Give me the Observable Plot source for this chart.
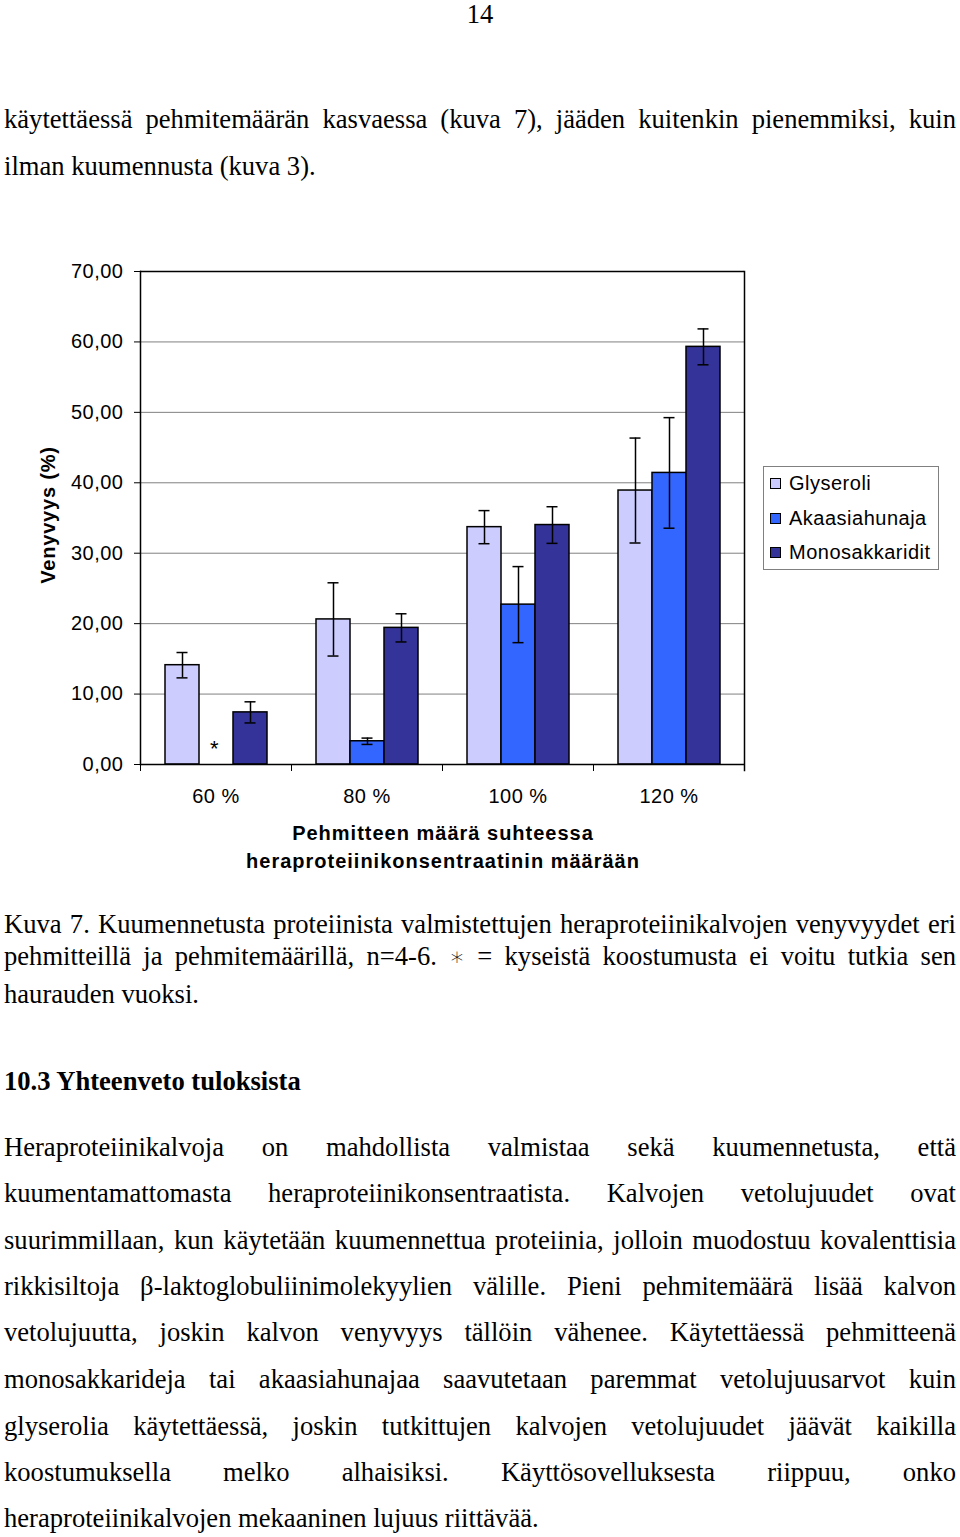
<!DOCTYPE html>
<html>
<head>
<meta charset="utf-8">
<script src="https://cdn.jsdelivr.net/npm/d3@7"></script>
<script src="https://cdn.jsdelivr.net/npm/@observablehq/plot@0.6"></script>
<style>
  body { margin: 0; background: #fff; }
  #page { position: relative; width: 960px; height: 1537px; overflow: hidden; background: #fff; color: #000;
          font-family: "Liberation Serif", "Times New Roman", serif; font-size: 26.6px; }
  .ln { position: absolute; left: 4px; width: 952px; line-height: 1; }
  .j { text-align: justify; text-align-last: justify; }
  .l { text-align: left; }
  .c { text-align: center; left: 0; width: 960px; }
  .b { font-weight: bold; }
  .op { font-family: "DejaVu Sans", sans-serif; font-size: 0.95em; font-weight: 200; }
  .sans { position: absolute; font-family: "Liberation Sans", Arial, sans-serif; font-size: 20px; line-height: 20px; letter-spacing: 0.5px; white-space: nowrap; }
  #chart { position: absolute; left: 0; top: 250px; }
  #legend { position: absolute; left: 763px; top: 466px; width: 174px; height: 102px; border: 1px solid #808080; background: #fff; }
  .sw { position: absolute; width: 9px; height: 9px; border: 1px solid #000; }
</style>
</head>
<body>
<div id="page"></div>
<script>
// ---- data ----
const categories = ["60 %", "80 %", "100 %", "120 %"];
const series = ["Glyseroli", "Akaasiahunaja", "Monosakkaridit"];
const glyseroli = [14.1, 20.6, 33.7, 38.9];
const glyseroliErr = [1.8, 5.2, 2.35, 7.45];
const akaasiahunaja = [null, 3.3, 22.7, 41.4];
const akaasiahunajaErr = [null, 0.45, 5.4, 7.85];
const monosakkaridit = [7.4, 19.4, 34.0, 59.3];
const monosakkariditErr = [1.5, 2.0, 2.6, 2.55];
const colors = ["#CCCCFF", "#3366FF", "#333399"];
const yTicks = [0, 10, 20, 30, 40, 50, 60, 70];
const gridTicks = [10, 20, 30, 40, 50, 60];
const notes = [{cat: "60 %", series: "Akaasiahunaja", text: "*"}];
const yLabel = "Venyvyys (%)";
const xTitle = ["Pehmitteen määrä suhteessa", "heraproteiinikonsentraatinin määrään"];

// ---- page text ----
const pageNumber = "14";
const topLines = [
  "käytettäessä pehmitemäärän kasvaessa (kuva 7), jääden kuitenkin pienemmiksi, kuin",
  "ilman kuumennusta (kuva 3)."
];
const captionLines = [
  "Kuva 7. Kuumennetusta proteiinista valmistettujen heraproteiinikalvojen venyvyydet eri",
  "pehmitteillä ja pehmitemäärillä, n=4-6. \u2217 = kyseistä koostumusta ei voitu tutkia sen",
  "haurauden vuoksi."
];
const heading = "10.3 Yhteenveto tuloksista";
const bodyLines = [
  "Heraproteiinikalvoja on mahdollista valmistaa sekä kuumennetusta, että",
  "kuumentamattomasta heraproteiinikonsentraatista. Kalvojen vetolujuudet ovat",
  "suurimmillaan, kun käytetään kuumennettua proteiinia, jolloin muodostuu kovalenttisia",
  "rikkisiltoja β-laktoglobuliinimolekyylien välille. Pieni pehmitemäärä lisää kalvon",
  "vetolujuutta, joskin kalvon venyvyys tällöin vähenee. Käytettäessä pehmitteenä",
  "monosakkarideja tai akaasiahunajaa saavutetaan paremmat vetolujuusarvot kuin",
  "glyserolia käytettäessä, joskin tutkittujen kalvojen vetolujuudet jäävät kaikilla",
  "koostumuksella melko alhaisiksi. Käyttösovelluksesta riippuu, onko",
  "heraproteiinikalvojen mekaaninen lujuus riittävää."
];

const page = document.getElementById("page");
const serifAsc = 0.8375 * 26.6;
function line(text, baseline, cls) {
  const d = document.createElement("div");
  d.className = "ln " + cls;
  d.style.top = (baseline - serifAsc) + "px";
  // render the math asterisk operator in a lighter face
  text.split("\u2217").forEach((part, k) => {
    if (k > 0) {
      const s = document.createElement("span");
      s.className = "op";
      s.textContent = "\u2217";
      d.append(s);
    }
    d.append(document.createTextNode(part));
  });
  page.append(d);
}
line(pageNumber, 23, "c");
[128.3, 175].forEach((b, i) => line(topLines[i], b, i < topLines.length - 1 ? "j" : "l"));
[933, 965, 1003].forEach((b, i) => line(captionLines[i], b, i < captionLines.length - 1 ? "j" : "l"));
line(heading, 1090, "l b");
[1156, 1202.7, 1249.3, 1295.7, 1341.7, 1388.3, 1435, 1481, 1527.3]
  .forEach((b, i) => line(bodyLines[i], b, i < bodyLines.length - 1 ? "j" : "l"));

// ---- chart ----
const values = [glyseroli, akaasiahunaja, monosakkaridit];
const errors = [glyseroliErr, akaasiahunajaErr, monosakkariditErr];
const rows = categories.flatMap((c, i) => series.map((s, j) => ({
  cat: c, series: s, value: values[j][i], err: errors[j][i]
}))).filter(d => d.value != null);

const width = 960, height = 630;
const marginTop = 21, marginBottom = 116, marginLeft = 140, marginRight = 216;
const plotH = height - marginTop - marginBottom;

const chart = Plot.plot({
  width, height, marginTop, marginBottom, marginLeft, marginRight,
  style: {fontFamily: "Liberation Sans, Arial, sans-serif", fontSize: "20px", letterSpacing: "0.5px", background: "transparent", color: "black", overflow: "visible"},
  fx: {domain: categories, padding: 0},
  x: {domain: series, paddingInner: 0, paddingOuter: 0.72, axis: null},
  y: {domain: [0, 70]},
  color: {domain: series, range: colors},
  marks: [
    Plot.gridY(gridTicks, {stroke: "#808080", strokeOpacity: 1, strokeWidth: 1}),
    Plot.barY(rows, {fx: "cat", x: "series", y: "value", fill: "series", stroke: "black", strokeWidth: 1.5}),
    Plot.ruleX(rows, {fx: "cat", x: "series", y1: d => d.value - d.err, y2: d => d.value + d.err, stroke: "black", strokeWidth: 1.5}),
    Plot.tickY(rows, {fx: "cat", x: "series", y: d => d.value + d.err, stroke: "black", strokeWidth: 1.5, insetLeft: 11.5, insetRight: 11.5}),
    Plot.tickY(rows, {fx: "cat", x: "series", y: d => d.value - d.err, stroke: "black", strokeWidth: 1.5, insetLeft: 11.5, insetRight: 11.5}),
    Plot.text(notes, {fx: "cat", x: "series", y: 0, text: "text", lineAnchor: "bottom", dx: -2, dy: -9, fontSize: 22, fill: "black"}),
    Plot.ruleY([0, 70], {stroke: "black", strokeWidth: 1.5}),
    Plot.frame({anchor: "left", insetTop: plotH, insetBottom: -6, stroke: "black", strokeWidth: 1}),
    Plot.frame({anchor: "left", facetAnchor: "left", stroke: "black", strokeWidth: 1.5}),
    Plot.frame({anchor: "right", facetAnchor: "right", insetBottom: -6, stroke: "black", strokeWidth: 1.5}),
    Plot.axisY(yTicks, {tickSize: 6, tickPadding: 11, tickFormat: d => d.toFixed(2).replace(".", ","), label: null, stroke: "black", fill: "black", fontSize: 20}),
    Plot.axisFx({anchor: "bottom", tickSize: 0, tickPadding: 24, label: null, fill: "black", fontSize: 20})
  ]
});
chart.id = "chart";
page.append(chart);

// axis titles (HTML overlay)
xTitle.forEach((t, i) => {
  const d = document.createElement("div");
  d.className = "sans";
  d.style.fontWeight = "bold";
  d.style.letterSpacing = "1px";
  d.style.left = "143px"; d.style.width = "600px"; d.style.textAlign = "center";
  d.style.top = ([840, 868][i] - 16.9) + "px";
  d.textContent = t;
  page.append(d);
});
const yl = document.createElement("div");
yl.className = "sans";
yl.style.fontWeight = "bold";
yl.style.letterSpacing = "0.8px";
yl.style.left = "48px"; yl.style.top = "515px";
yl.style.transform = "translate(-50%, -50%) rotate(-90deg)";
yl.textContent = yLabel;
page.append(yl);

// legend
const legend = document.createElement("div");
legend.id = "legend";
page.append(legend);
const legendBaselines = [490, 525, 559];
series.forEach((s, i) => {
  const sw = document.createElement("div");
  sw.className = "sw";
  sw.style.background = colors[i];
  sw.style.left = (770 - 764) + "px";
  sw.style.top = (legendBaselines[i] - 12.5 - 467) + "px";
  legend.append(sw);
  const t = document.createElement("div");
  t.className = "sans";
  t.style.left = (789 - 764) + "px";
  t.style.top = (legendBaselines[i] - 16.9 - 467) + "px";
  t.textContent = s;
  legend.append(t);
});
</script>
</body>
</html>
